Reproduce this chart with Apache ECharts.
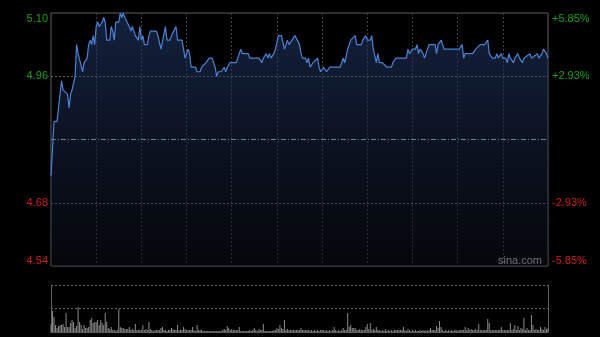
<!DOCTYPE html>
<html><head><meta charset="utf-8">
<script src="https://cdn.jsdelivr.net/npm/echarts@6/dist/echarts.min.js"></script>
<style>html,body{margin:0;padding:0;background:#000;}#c{width:600px;height:337px;}</style>
</head><body><div id="c"></div>
<script>
// minute index (0 = 09:30, 330 = 16:00, lunch break removed)
const minutes = [0,2,4,5,7,8,9,11,12,13,14,16,17,18,19,21,22,23,24,25,26,27,28,29,30,31,32,34,35,36,37,39,40,41,42,43,45,46,47,48,49,50,52,53,54,55,56,58,59,60,61,62,64,65,66,70,71,73,76,77,79,80,81,83,84,87,89,90,91,92,93,96,97,99,100,101,103,105,107,109,110,111,113,115,116,117,119,123,124,126,127,131,132,138,140,141,143,144,145,146,148,149,151,153,155,157,158,160,162,163,165,166,167,169,170,171,172,174,175,177,178,179,181,182,183,185,192,193,194,195,197,198,199,200,202,203,206,207,209,210,212,213,214,216,217,218,220,223,226,227,229,236,237,238,240,242,243,244,245,247,248,250,251,255,256,257,259,261,271,273,274,275,280,282,285,288,290,291,292,293,295,296,297,299,300,302,303,304,305,307,308,310,311,313,314,318,319,323,324,326,327,329,330];
const prices = [4.74,4.86,4.86,4.89,4.95,4.93,4.93,4.92,4.89,4.92,4.93,4.96,5.03,5.01,5.01,4.97,4.99,4.99,5.00,5.03,5.04,5.03,5.05,5.03,5.07,5.08,5.07,5.08,5.09,5.08,5.04,5.04,5.07,5.06,5.04,5.08,5.08,5.10,5.09,5.10,5.09,5.09,5.07,5.06,5.07,5.06,5.05,5.04,5.07,5.04,5.05,5.03,5.03,5.05,5.06,5.06,5.05,5.02,5.07,5.04,5.04,5.05,5.05,5.07,5.04,5.04,5.00,5.01,5.02,5.01,4.98,4.98,4.97,4.97,4.98,4.98,4.99,5.00,5.00,4.98,4.96,4.97,4.97,4.98,4.97,4.98,4.99,4.99,5.00,5.02,5.01,5.01,5.00,5.00,4.99,5.00,5.01,5.00,5.01,5.00,5.01,5.02,5.05,5.05,5.02,5.04,5.03,5.04,5.05,5.05,5.03,5.01,5.00,5.00,4.99,5.00,4.98,4.99,4.99,5.00,4.98,4.97,4.98,4.98,4.97,4.98,4.98,4.99,5.00,4.99,5.02,5.03,5.04,5.04,5.05,5.03,5.03,5.04,5.05,5.04,5.04,5.05,5.02,4.99,5.01,4.99,4.99,4.98,4.98,4.99,5.00,5.00,5.02,5.01,5.02,5.02,5.03,5.01,5.02,5.01,5.00,5.02,5.03,5.03,5.01,5.03,5.04,5.02,5.02,5.03,5.00,5.01,5.01,5.02,5.03,5.03,5.04,5.01,5.01,5.00,5.00,5.01,5.00,5.01,5.00,5.00,4.99,5.01,5.00,4.99,5.00,5.01,5.00,4.99,5.00,5.01,5.00,5.01,5.00,5.01,5.02,5.01,5.00];
// per-minute volume (relative units), minutes 0..330
const volumes = [
8,21,15,7,4,6,7,7,8,5,
19,5,5,9,12,10,4,6,25,10,
7,3,7,4,4,5,12,14,9,10,
10,12,7,12,9,7,19,10,4,3,
5,2,2,1,2,23,5,4,4,3,
3,3,5,2,3,2,8,2,2,2,
2,7,2,3,2,10,3,2,1,2,
2,2,2,4,5,2,2,1,2,2,
4,3,2,2,7,2,2,2,5,3,
2,2,2,2,5,2,1,7,2,2,
2,1,1,1,1,1,1,1,1,1,
1,1,1,1,2,3,2,6,4,2,
3,2,2,2,2,5,1,1,1,1,
1,1,2,1,2,4,2,1,3,2,
2,8,1,1,1,1,1,1,2,2,
4,3,7,4,3,12,2,3,2,2,
2,2,2,2,2,2,4,2,2,2,
2,2,1,2,1,2,1,2,1,2,
2,2,1,2,1,2,1,2,5,2,
1,2,1,2,4,2,2,19,5,7,
4,4,4,2,2,3,2,2,2,5,
8,3,9,2,3,2,5,2,2,1,
2,1,3,1,2,1,2,1,2,2,
2,2,2,2,5,2,1,3,2,1,
2,1,2,1,1,2,1,2,1,2,
1,2,4,2,2,2,6,4,11,5,
2,1,2,1,2,1,2,1,2,2,
1,2,2,2,2,5,2,4,2,3,
2,2,3,2,8,2,2,2,2,2,
13,9,2,2,2,2,2,2,2,5,
2,2,2,2,2,9,2,3,7,2,
6,2,4,3,14,2,4,2,2,17,
7,2,3,2,2,5,3,2,5,3,
4];
const prevClose = 4.82;
const priceTicks = ['5.10','4.96','4.68','4.54'];
const pctTicks = ['+5.85%','+2.93%','-2.93%','-5.85%'];

const GREEN = '#14a014', RED = '#d01c1c';
const NONE = 'rgba(0,0,0,0)';
function tickIndex(v){ const s=v.toFixed(2); return priceTicks.indexOf(s); }
const vGrid = [NONE,'#3c3c3c','#3c3c3c','#3c3c3c','#3c3c3c','#3c3c3c','#3c3c3c','#3c3c3c','#3c3c3c','#3c3c3c','#3c3c3c',NONE];

const chart = echarts.init(document.getElementById('c'), null, {renderer:'canvas'});
chart.setOption({
  backgroundColor:'#000',
  animation:false,
  grid:[
    {left:51, right:52, top:13, height:253, show:true, borderColor:'#5e5e5e', borderWidth:1, backgroundColor:'transparent'},
    {left:51, right:52, top:285, height:47, show:false}
  ],
  xAxis:[
    {type:'value', gridIndex:0, min:0, max:330, interval:30,
     axisLine:{show:false}, axisTick:{show:false}, axisLabel:{show:false},
     splitLine:{show:true, lineStyle:{color:vGrid, type:[2,2], width:1}}},
    {type:'value', gridIndex:1, min:0, max:330, interval:30,
     axisLine:{show:true, lineStyle:{color:'#5e5e5e'}}, axisTick:{show:false}, axisLabel:{show:false},
     splitLine:{show:false}}
  ],
  yAxis:[
    {type:'value', gridIndex:0, min:4.54, max:5.10, interval:0.14, position:'left',
     axisLine:{show:false}, axisTick:{show:false},
     axisLabel:{margin:3, fontSize:11, fontFamily:'Liberation Sans, Arial, sans-serif',
       verticalAlignMaxLabel:'top', verticalAlignMinLabel:'bottom',
       formatter:function(v){ const i=tickIndex(v); return i<0?'':priceTicks[i]; },
       color:function(v){ return (typeof v==='string'?parseFloat(v):v) > prevClose ? GREEN : RED; }},
     splitLine:{show:true, lineStyle:{color:[NONE,'#6a6a6a',NONE,'#6a6a6a',NONE], type:[2,2], width:1}}},
    {type:'value', gridIndex:0, min:4.54, max:5.10, interval:0.14, position:'right',
     axisLine:{show:false}, axisTick:{show:false}, splitLine:{show:false},
     axisLabel:{margin:4, fontSize:11, fontFamily:'Liberation Sans, Arial, sans-serif',
       verticalAlignMaxLabel:'top', verticalAlignMinLabel:'bottom',
       formatter:function(v){ const i=tickIndex(v); return i<0?'':pctTicks[i]; },
       color:function(v){ return (typeof v==='string'?parseFloat(v):v) > prevClose ? GREEN : RED; }}},
    {type:'value', gridIndex:1, min:0, max:47, interval:23.5, position:'left',
     axisLine:{show:true, lineStyle:{color:'#5e5e5e'}}, axisTick:{show:false}, axisLabel:{show:false},
     splitLine:{show:true, lineStyle:{color:[NONE,'#6a6a6a','#6a6a6a'], type:[2,2], width:1}}},
    {type:'value', gridIndex:1, min:0, max:47, position:'right',
     axisLine:{show:true, lineStyle:{color:'#5e5e5e'}}, axisTick:{show:false}, axisLabel:{show:false},
     splitLine:{show:false}}
  ],
  series:[
    {type:'line', xAxisIndex:0, yAxisIndex:0, symbol:'none', silent:true,
     data: minutes.map((m,i)=>[m, prices[i]]),
     lineStyle:{color:'#4a82d6', width:1.2},
     areaStyle:{origin:'start', color:new echarts.graphic.LinearGradient(0,0,0,1,[
       {offset:0, color:'rgba(38,64,118,0.75)'},{offset:1, color:'rgba(12,16,28,0.6)'}])},
     markLine:{silent:true, symbol:'none', label:{show:false},
       lineStyle:{color:'#6f7f95', type:[5,2,1,2], width:1},
       data:[{yAxis:prevClose}]}},
    {type:'bar', xAxisIndex:1, yAxisIndex:2, silent:true, barWidth:1,
     data: volumes.map((v,i)=>[i, v]),
     itemStyle:{color:'#8c8c8c'}}
  ],
  graphic:[
    {type:'text', left:498, top:255, style:{text:'sina.com', fill:'#b4b4b4', fontSize:11, fontFamily:'Liberation Sans, Arial, sans-serif'}}
  ]
});
</script></body></html>
